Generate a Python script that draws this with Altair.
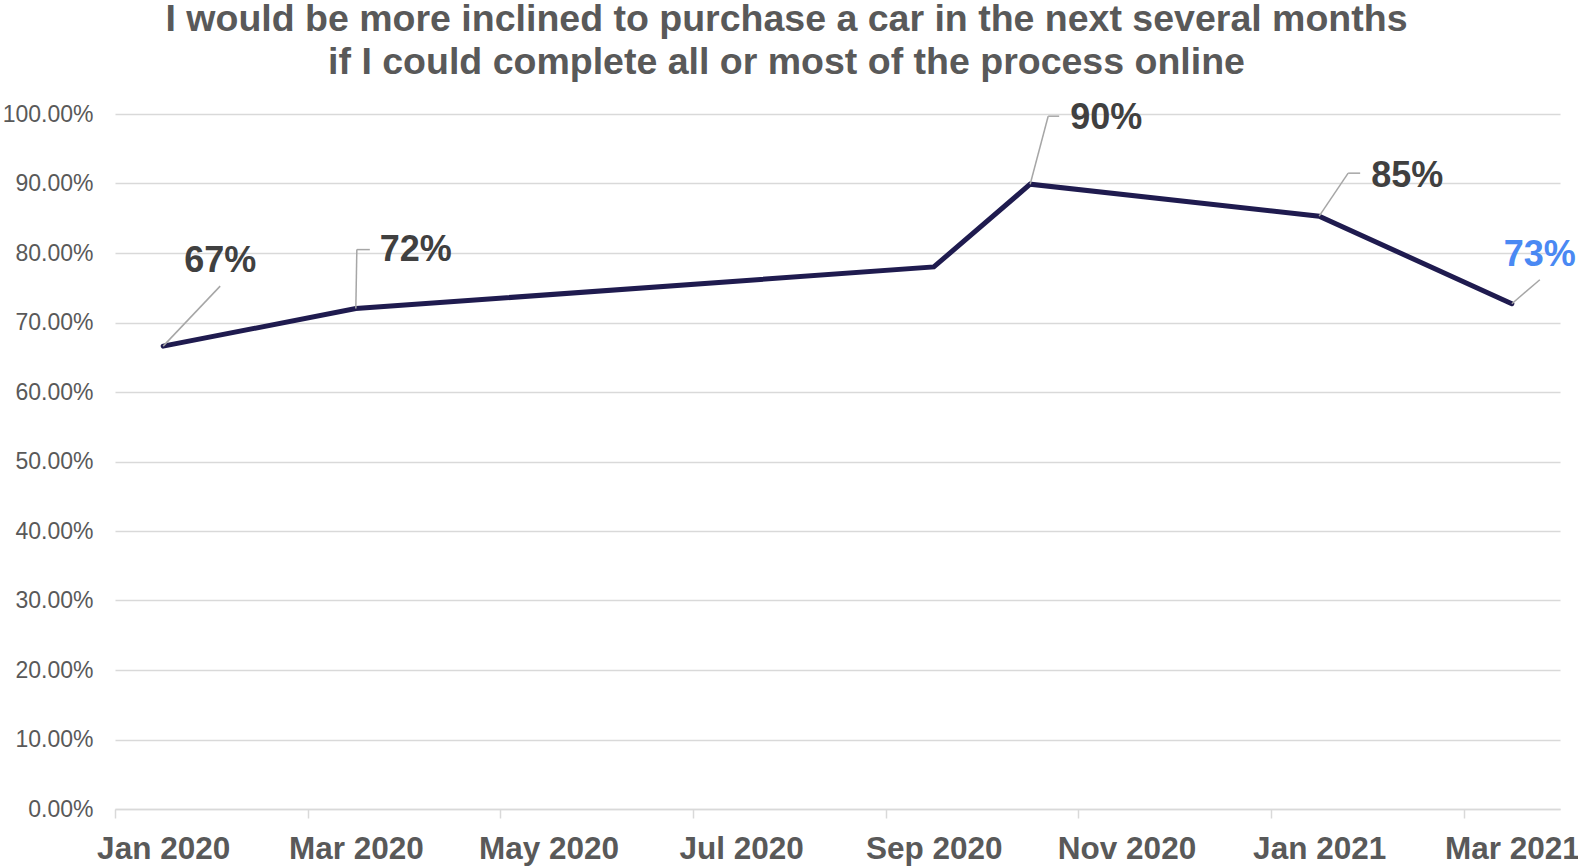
import altair as alt
import pandas as pd

# ---- data ----
months = ["Jan 2020", "Mar 2020", "Sep 2020", "Oct 2020", "Jan 2021", "Mar 2021"]
values = [0.666, 0.720, 0.780, 0.899, 0.853, 0.727]
value_labels = ["67%", "72%", "", "90%", "85%", "73%"]
axis_labels = ["Jan 2020", "Mar 2020", "May 2020", "Jul 2020",
               "Sep 2020", "Nov 2020", "Jan 2021", "Mar 2021"]
y_ticks = [i / 10 for i in range(11)]

start = pd.Timestamp("2020-01-01")


def month_index(s):
    d = pd.to_datetime(s, format="%b %Y")
    return (d.year - start.year) * 12 + d.month - start.month


df = pd.DataFrame({
    "month": months,
    "value": values,
    "label": value_labels,
})
df["idx"] = [month_index(m) + 0.5 for m in months]

tick_values = [month_index(m) for m in axis_labels]
n_months = month_index("Mar 2021") + 1

W, H = 1445, 695
band = W / n_months

label_map = "{" + ",".join(f"'{v}':'{t}'" for v, t in zip(tick_values, axis_labels)) + "}"

GRAY = "#595959"
DARK = "#404040"
BLUE = "#4a89f3"
LINE = "#1f1b4f"
LEADER = "#a6a6a6"
FONT = "Liberation Sans"

x_scale = alt.Scale(domain=[0, n_months], nice=False, zero=False)
y_scale = alt.Scale(domain=[0, 1], nice=False)

x = alt.X("idx:Q", scale=x_scale,
          axis=alt.Axis(values=tick_values, title=None, grid=False,
                        labelExpr=f"{label_map}[''+datum.value]",
                        labelOffset=band / 2, labelFont=FONT, labelFontSize=31.5,
                        labelFontWeight="bold", labelColor=GRAY, labelPadding=15,
                        tickSize=9, tickColor="#d9d9d9", tickWidth=1.5,
                        domainColor="#d9d9d9", domainWidth=1.5, labelFlush=False))
y = alt.Y("value:Q", scale=y_scale,
          axis=alt.Axis(values=y_ticks, format=".2%", title=None,
                        labelFont=FONT, labelFontSize=23, labelColor=GRAY,
                        labelPadding=22, ticks=False, domain=False,
                        gridColor="#d9d9d9", gridWidth=1.5))

base = alt.Chart(df)

line = base.mark_line(color=LINE, strokeWidth=5, strokeCap="round",
                      strokeJoin="miter").encode(x=x, y=y)

# label placement (pixel offsets from each point): text dx, dy, leader path
placement = {
    "67%": dict(dx=57, dy=-85, path=[(0, 0), (57, -60)], color=DARK),
    "72%": dict(dx=60, dy=-59, path=[(0, 0), (1, -59), (14, -59)], color=DARK),
    "90%": dict(dx=76, dy=-66, path=[(0, 0), (18, -68), (29, -68)], color=DARK),
    "85%": dict(dx=88, dy=-40, path=[(0, 0), (29, -43), (41, -43)], color=DARK),
    "73%": dict(dx=28, dy=-49, path=[(0, 0), (28, -24)], color=BLUE),
}

xs = alt.X("idx:Q", scale=x_scale)
ys = alt.Y("value:Q", scale=y_scale)

layers = [line]
for lab, p in placement.items():
    sub = base.transform_filter(alt.datum.label == lab)
    pts = p["path"]
    for (x1, y1), (x2, y2) in zip(pts[:-1], pts[1:]):
        layers.append(
            sub.mark_rule(color=LEADER, strokeWidth=1.5,
                          xOffset=x1, yOffset=y1, x2Offset=x2, y2Offset=y2)
            .encode(x=xs, y=ys, x2="idx:Q", y2="value:Q")
        )
    layers.append(
        sub.mark_text(font=FONT, fontSize=36, fontWeight="bold", color=p["color"],
                      align="center", baseline="middle", dx=p["dx"], dy=p["dy"])
        .encode(x=xs, y=ys, text="label:N")
    )

chart = alt.layer(*layers).properties(
    width=W, height=H,
    background="white",
    title=alt.TitleParams(
        ["I would be more inclined to purchase a car in the next several months",
         "if I could complete all or most of the process online"],
        font=FONT, fontSize=37.5, fontWeight="bold", color=GRAY,
        anchor="middle", lineHeight=43, dx=-51, offset=19),
    autosize=alt.AutoSizeParams(type="none"),
    padding={"left": 115, "top": 114, "right": 18, "bottom": 59},
).configure_view(
    strokeWidth=0, stroke="transparent"
).configure_axisY(
    domain=False, ticks=False
).configure_axisX(
    grid=False
)

chart.save("out.html", embed_options={"renderer": "svg", "actions": False})
